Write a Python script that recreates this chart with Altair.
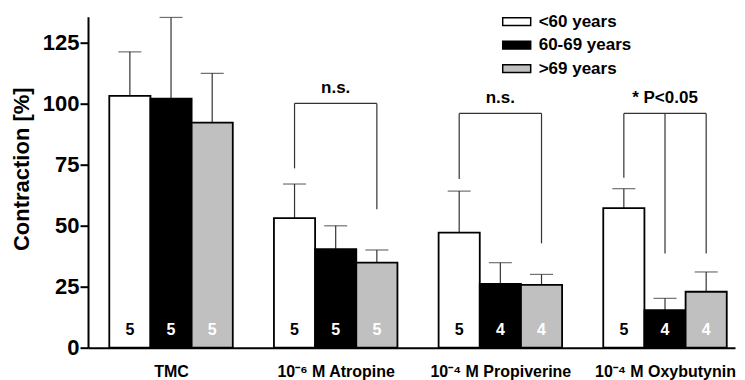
import altair as alt
import pandas as pd

# ---- data ----
groups = ["TMC", "10⁻⁶ M Atropine", "10⁻⁴ M Propiverine", "10⁻⁴ M Oxybutynin"]
ages = ["<60 years", "60-69 years", ">69 years"]
bar_colors = ["white", "black", "#c0c0c0"]
count_colors = ["black", "white", "white"]

mean_lt60 = [103.1, 53.0, 47.1, 57.1]
mean_60_69 = [102.0, 40.3, 26.1, 15.4]
mean_gt69 = [92.1, 34.8, 25.7, 22.9]

sem_lt60 = [18.0, 14.0, 17.0, 8.0]
sem_60_69 = [33.2, 9.6, 8.7, 4.8]
sem_gt69 = [20.2, 5.2, 4.3, 8.1]

n_lt60 = [5, 5, 5, 5]
n_60_69 = [5, 5, 4, 4]
n_gt69 = [5, 5, 4, 4]

# significance brackets
bracket_group = [1, 2, 3]
bracket_top = [100.0, 95.9, 95.9]
bracket_label = ["n.s.", "n.s.", "* P<0.05"]
leg_group = [1, 1, 2, 2, 3, 3, 3]
leg_age = [0, 2, 0, 2, 0, 1, 2]
leg_bottom = [73.4, 56.7, 69.1, 42.7, 69.6, 38.6, 38.6]

# ---- tables ----
means = [mean_lt60, mean_60_69, mean_gt69]
sems = [sem_lt60, sem_60_69, sem_gt69]
ns = [n_lt60, n_60_69, n_gt69]
rows = []
for gi, g in enumerate(groups):
    for ai, a in enumerate(ages):
        slot = 4 * gi + ai
        rows.append(dict(group=g, age=a, x0=slot, x1=slot + 1, xc=slot + 0.5,
                         mean=means[ai][gi], top=means[ai][gi] + sems[ai][gi],
                         n=str(ns[ai][gi])))
df = pd.DataFrame(rows)

br = pd.DataFrame(dict(
    xl=[4 * g + 0.5 for g in bracket_group],
    xr=[4 * g + 2.5 for g in bracket_group],
    xm=[4 * g + 1.5 for g in bracket_group],
    top=bracket_top, label=bracket_label))
legs = pd.DataFrame(dict(
    xc=[4 * g + a + 0.5 for g, a in zip(leg_group, leg_age)],
    bottom=leg_bottom,
    top=[bracket_top[bracket_group.index(g)] for g in leg_group]))

FONT = "Liberation Sans"
xscale = alt.Scale(domain=[-0.517, 15.2], nice=False, zero=False)
yscale = alt.Scale(domain=[0, 135.5], nice=False)

label_expr = "[" + ",".join("'" + g + "'" for g in groups) + "][floor(datum.value / 4)]"

base = alt.Chart(df)

bars = base.mark_bar(stroke="black", strokeWidth=1.8).encode(
    x=alt.X("x0:Q", scale=xscale, axis=alt.Axis(
        values=[1.5, 5.5, 9.5, 13.5], labelExpr=label_expr, grid=False, ticks=False,
        domainColor="black", domainWidth=2, labelFont=FONT, labelFontSize=16,
        labelFontWeight="bold", labelColor="black", labelPadding=16, title=None,
        labelFlush=False)),
    x2="x1:Q",
    y=alt.Y("mean:Q", scale=yscale, axis=alt.Axis(
        values=[0, 25, 50, 75, 100, 125], grid=False, tickSize=8, tickWidth=2,
        tickColor="black", domainColor="black", domainWidth=2, labelFont=FONT,
        labelFontSize=22, labelFontWeight="bold", labelColor="black", labelPadding=1,
        title="Contraction [%]", titleFont=FONT, titleFontSize=22, titleFontWeight="bold",
        titleColor="black", titleX=-55, titleY=152)),
    y2=alt.datum(0),
    fill=alt.Fill("age:N", scale=alt.Scale(domain=ages, range=bar_colors),
                  legend=alt.Legend(
                      title=None, orient="none", legendX=413.7, legendY=-4,
                      symbolType="M-1,-0.275H1V0.275H-1Z", symbolSize=784,
                      symbolStrokeColor="black", symbolStrokeWidth=1.5,
                      labelFont=FONT, labelFontSize=17, labelFontWeight="bold",
                      labelColor="black", labelOffset=7, clipHeight=18,
                      rowPadding=5.5, padding=0,
                      labelExpr="datum.label == '60-69 years' ? '\u00a060-69 years' : datum.label")),
)

err = base.mark_rule(color="#333", strokeWidth=1.2).encode(
    x=alt.X("xc:Q", scale=xscale), y=alt.Y("mean:Q", scale=yscale), y2="top:Q")
caps = base.mark_tick(color="#333", orient="horizontal", size=23, thickness=1.2).encode(
    x=alt.X("xc:Q", scale=xscale), y=alt.Y("top:Q", scale=yscale))

counts = base.mark_text(font=FONT, fontSize=16, fontWeight="bold", baseline="alphabetic", dy=-13).encode(
    x=alt.X("xc:Q", scale=xscale), y=alt.datum(0), text="n:N",
    color=alt.Color("age:N", scale=alt.Scale(domain=ages, range=count_colors), legend=None))

hbr = alt.Chart(br).mark_rule(color="#333", strokeWidth=1.2).encode(
    x=alt.X("xl:Q", scale=xscale), x2="xr:Q", y=alt.Y("top:Q", scale=yscale))
blab = alt.Chart(br).mark_text(font=FONT, fontSize=17, fontWeight="bold", baseline="alphabetic",
                               dy=-10, color="black").encode(
    x=alt.X("xm:Q", scale=xscale), y=alt.Y("top:Q", scale=yscale), text="label:N")
vlegs = alt.Chart(legs).mark_rule(color="#333", strokeWidth=1.2).encode(
    x=alt.X("xc:Q", scale=xscale), y=alt.Y("bottom:Q", scale=yscale), y2="top:Q")

chart = alt.layer(err, caps, bars, counts, hbr, vlegs, blab).properties(
    width=647, height=331,
    padding={"left": 80, "top": 8.7, "right": 2, "bottom": 40},
    autosize=alt.AutoSizeParams(type="none"),
).configure_view(stroke=None)

chart.save("out.html", embed_options={"renderer": "svg", "actions": False})
